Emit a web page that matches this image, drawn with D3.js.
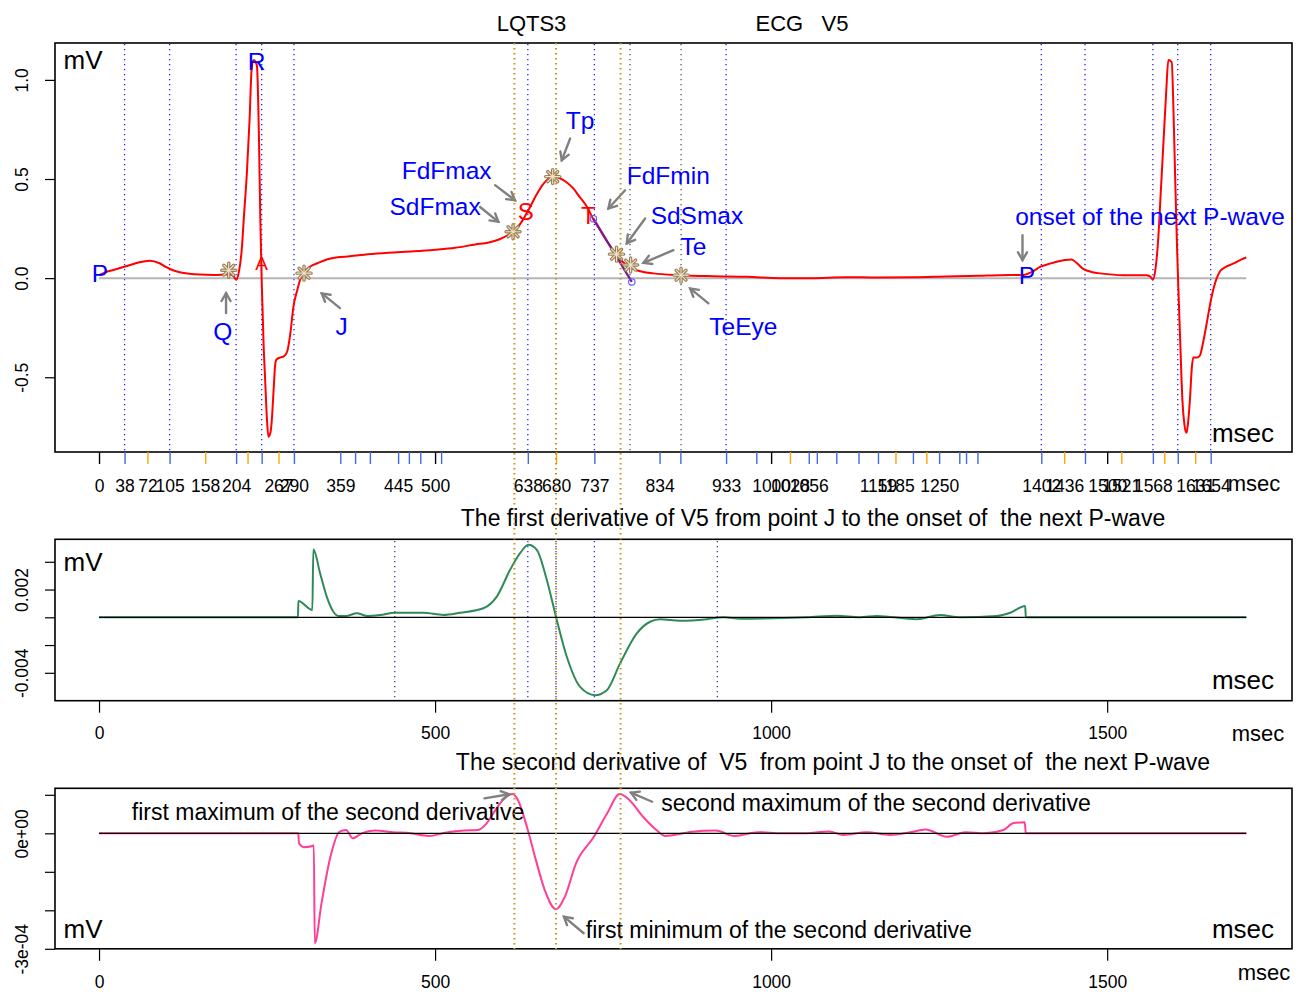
<!DOCTYPE html>
<html>
<head>
<meta charset="utf-8">
<script src="https://cdn.jsdelivr.net/npm/d3@7"></script>
<style>
  body { margin: 0; background: #fff; }
  svg { display: block; }
  text { font-family: "Liberation Sans", Arial, Helvetica, sans-serif; }
</style>
</head>
<body>
<svg id="chart" width="1304" height="992"></svg>
<script>
// ---------- ECG lead V5 (msec, mV) ----------
const ecgMs = [0,10,20,30,40,50,60,76,90,100,110,120,135,150,170,185,195,200,204,208,212,216,220,224,227,230,233,235,238,240,242,245,247,250,252,255,257,260,262,264,270,275,280,285,289,295,300,305,315,325,340,355,373,400,430,468,500,530,560,580,595,610,620,630,640,650,660,670,676,685,695,705,715,726,735,745,755,765,775,785,800,825,865,914,964,1013,1060,1110,1160,1210,1260,1310,1340,1375,1390,1400,1412,1425,1447,1455,1465,1478,1490,1524,1559,1565,1568,1572,1576,1580,1584,1588,1591,1596,1599,1601,1604,1606,1609,1612,1615,1618,1620,1623,1626,1628,1634,1638,1643,1648,1655,1663,1668,1673,1688,1700,1707];
const ecgMv = [0.015,0.03,0.04,0.05,0.06,0.07,0.08,0.088,0.075,0.055,0.04,0.03,0.022,0.018,0.016,0.018,0.02,0.01,-0.008,0.03,0.13,0.33,0.53,0.80,1.05,1.10,1.09,1.07,0.70,0.30,-0.01,-0.35,-0.50,-0.72,-0.80,-0.78,-0.72,-0.55,-0.44,-0.41,-0.40,-0.395,-0.37,-0.27,-0.15,-0.06,0.0,0.03,0.06,0.075,0.095,0.105,0.11,0.12,0.128,0.135,0.143,0.153,0.17,0.18,0.195,0.22,0.245,0.29,0.35,0.415,0.47,0.505,0.512,0.505,0.485,0.455,0.41,0.36,0.30,0.245,0.19,0.14,0.095,0.066,0.04,0.024,0.015,0.01,0.007,0.0,0.0,0.005,0.003,0.004,0.008,0.012,0.015,0.016,0.035,0.057,0.07,0.083,0.094,0.075,0.045,0.03,0.024,0.015,0.015,0.005,-0.008,0.05,0.2,0.45,0.70,0.95,1.10,1.09,0.80,0.53,0.15,-0.06,-0.35,-0.62,-0.74,-0.78,-0.74,-0.62,-0.45,-0.40,-0.40,-0.39,-0.32,-0.23,-0.10,0.0,0.035,0.05,0.074,0.095,0.104];

// ---------- first derivative, J point to next P onset ----------
const fdMs = [0,296,296.6,317.4,318.9,328.9,338.8,348.7,356.1,368.6,383.5,398.4,418.2,440.5,482.6,512.4,537.2,571.9,591.8,611.6,626.5,638.8,651.3,666.2,678.6,696,715.8,738.1,755.5,775.3,800.1,819.9,834.8,864.6,904.3,929,953.9,1003.4,1053.1,1097.8,1132.4,1157.3,1216.8,1251.5,1281.3,1335.9,1355.7,1378,1379,1707];
const fdMv = [0,0,0.00118,0.00053,0.00491,0.00318,0.00149,0.0004,0.0001,0.0001,0.0003,0.0001,0.00017,0.00033,0.00033,0.00017,0.00033,0.00065,0.00149,0.00342,0.00462,0.00522,0.00486,0.0027,0.0003,-0.00284,-0.00501,-0.00561,-0.00525,-0.00332,-0.00116,-0.00032,-0.00014,-0.00025,-0.00014,0,-0.0001,-0.00007,0,0.00012,0,0.0001,-0.00014,0.00017,0,0.0001,0.00033,0.00082,0,0];

// ---------- second derivative, J point to next P onset ----------
const sdMs = [0,296.4,297.6,304.5,317.7,319.6,321,331,344.3,357.6,367.6,377.5,390.8,410.7,437.4,463.8,490.5,517,543.6,563.5,576.8,590,603.4,615.3,623.4,636.6,649.9,663.1,679.8,693,709.7,736.3,756.1,774.7,789.4,809.4,829.3,842.6,869,882.4,917.7,945.7,980.7,1015.9,1051,1086.2,1107.1,1142.3,1177.1,1205.4,1230,1261.6,1289.7,1317.7,1345.8,1359.8,1377.4,1378.9,1707];
const sdMv = [0,0,-2.6e-5,-3.6e-5,-3.3e-5,-3.1e-5,-2.86e-4,-1.82e-4,-6.1e-5,4e-6,8.6e-6,-1.3e-5,0,7e-6,3e-6,0,-7e-6,2e-6,7e-6,8.6e-6,2.6e-5,6.1e-5,9.1e-5,1.02e-4,8.6e-5,1.7e-5,-6.9e-5,-1.47e-4,-1.97e-4,-1.65e-4,-7.8e-5,-9e-6,5.2e-5,1.02e-4,8.6e-5,4.3e-5,8.6e-6,-7e-6,0,4e-6,7e-6,-7e-6,3e-6,0,0,5e-6,-4.4e-6,3e-6,-4.4e-6,2e-6,1e-5,-9e-6,3e-6,0,8.6e-6,2.6e-5,2.9e-5,0,0];

// ---------- fiducial points ----------
const blueTicks = [38,105,204,242,290,359,381,403,445,461,478,509,638,737,834,865,933,978,1056,1068,1097,1130,1159,1211,1250,1280,1290,1307,1402,1467,1568,1605,1654];
const orangeTicks = [72,158,221,267,680,1028,1185,1231,1436,1521,1585,1631];
const majorTicks = [0,500,1000,1500];
const tickLabels = [0,38,72,105,158,204,267,290,359,445,500,638,680,737,834,933,1000,1028,1056,1159,1185,1250,1402,1436,1500,1521,1568,1631,1654];

const ecgGuideMs = [38,105,204,242,290,638,737,933,1402,1467,1568,1605,1654];
const ecgGrayGuideMs = [790,866];
const derivGuideMs = [618,680,776];
const fdGuideMs = [440,638,680,737,920];
const fdGuideColor = ["#3b3b95","#2a2aff","#2a2aff","#2a2aff","#3b3b95"];

const starMs = [193,305,616,675,770,791,866];
const starMv = [0.04,0.025,0.234,0.512,0.121,0.066,0.015];

const tangentMs = [735.6,792.7];
const tangentMv = [0.30,-0.019];

// blue labels on the ECG: text, msec, mV
const ecgLabelText = ["P","R","Q","J","FdFmax","SdFmax","Tp","FdFmin","SdSmax","Te","TeEye","onset of the next P-wave","P"];
const ecgLabelMs   = [1.5,234.6,184,361,517.3,500,715.8,847,889.6,884.5,958.7,1563.7,1380.6];
const ecgLabelMv   = [0.024,1.093,-0.27,-0.245,0.544,0.359,0.796,0.519,0.318,0.158,-0.245,0.309,0.015];

const redLabelText = ["A","S","T"];
const redLabelMs   = [242,635,728];
const redLabelMv   = [0.076,0.335,0.317];

// annotation arrows on the ECG (from -> to)
const ecgArrowMs0 = [189,358.6,589.3,567,700.9,782.7,812.5,854.6,906.7,1374];
const ecgArrowMv0 = [-0.176,-0.151,0.469,0.359,0.704,0.443,0.301,0.141,-0.127,0.217];
const ecgArrowMs1 = [189,331.4,619,594.2,688.5,757.9,785.3,810,879.5,1374];
const ecgArrowMv1 = [-0.076,-0.077,0.393,0.284,0.594,0.351,0.175,0.077,-0.052,0.091];

// second-derivative annotations
const sdNoteText = ["first maximum of the second derivative","second maximum of the second derivative","first minimum of the second derivative"];
const sdNoteMs = [340.8,1156,1011.5];
const sdNoteMv = [0.55e-4,0.78e-4,-2.5e-4];
const sdArrowMs0 = [573.5,822.9,721.1];
const sdArrowMv0 = [0.909e-4,0.82e-4,-2.597e-4];
const sdArrowMs1 = [610.1,791.4,691.7];
const sdArrowMv1 = [1.013e-4,1.055e-4,-2.166e-4];

// ---------- layout ----------
const svg = d3.select("#chart");
const x = d3.scaleLinear().domain([-65.5, 1775]).range([55, 1292]);
const yTop = d3.scaleLinear().domain([-0.877, 1.186]).range([452, 43]);
const yMid = d3.scaleLinear().domain([-0.00601, 0.00562]).range([700.7, 539.3]);
const yBot = d3.scaleLinear().domain([-3.0e-4, 1.169e-4]).range([948.8, 788.3]);
const FONT = '"Liberation Sans", Arial, Helvetica, sans-serif';

const zip = (a, b) => a.map((d, i) => [d, b[i]]);
const lineOf = (ys) => d3.line().x(d => x(d[0])).y(d => ys(d[1])).curve(d3.curveMonotoneX);

function panelBox(ys) {
  const [b, t] = ys.range();
  svg.append("rect").attr("x", 55).attr("y", t).attr("width", 1292 - 55).attr("height", b - t)
    .attr("fill", "none").attr("stroke", "#000").attr("stroke-width", 1.6);
}

function vGuide(ms, y0, y1, color, width, dash) {
  svg.append("g").selectAll("line").data(ms).join("line")
    .attr("x1", d => x(d)).attr("x2", d => x(d))
    .attr("y1", y0).attr("y2", y1)
    .attr("stroke", color).attr("stroke-width", width)
    .attr("stroke-dasharray", dash);
}

function arrow(x0, y0, x1, y1) {
  const g = svg.append("g").attr("stroke", "#808080").attr("stroke-width", 2.4).attr("fill", "none").attr("stroke-linecap", "round");
  g.append("line").attr("x1", x0).attr("y1", y0).attr("x2", x1).attr("y2", y1);
  const a = Math.atan2(y1 - y0, x1 - x0), L = 9, h = Math.PI / 6;
  g.append("path").attr("d",
    `M${x1 - L * Math.cos(a - h)},${y1 - L * Math.sin(a - h)}L${x1},${y1}L${x1 - L * Math.cos(a + h)},${y1 - L * Math.sin(a + h)}`);
}

function text(str, tx, ty, size, color, anchor) {
  return svg.append("text").attr("x", tx).attr("y", ty)
    .attr("font-size", size).attr("fill", color || "#000")
    .attr("text-anchor", anchor || "middle").attr("dominant-baseline", "central")
    .style("white-space", "pre").text(str);
}

function yAxis(ys, values, labelOf) {
  const g = svg.append("g").attr("transform", "translate(55,0)")
    .call(d3.axisLeft(ys).tickValues(values).tickSize(10).tickFormat(labelOf));
  g.select(".domain").remove();
  g.selectAll("line").attr("stroke", "#000").attr("stroke-width", 1.2);
  g.selectAll("text").attr("x", 0).attr("dy", 0).attr("text-anchor", "middle")
    .attr("transform", "translate(-27,0) rotate(-90)")
    .attr("font-size", 17.5).attr("font-family", FONT).attr("fill", "#000");
}

function xAxisPlain(yPos, pad) {
  const g = svg.append("g").attr("transform", `translate(0,${yPos})`)
    .call(d3.axisBottom(x).tickValues(majorTicks).tickSize(12).tickPadding(pad).tickFormat(d3.format("d")));
  g.select(".domain").remove();
  g.selectAll("line").attr("stroke", "#000").attr("stroke-width", 1.2);
  g.selectAll("text").attr("font-size", 17.5).attr("font-family", FONT).attr("fill", "#000");
}

// ---------- panel frames ----------
panelBox(yTop);
panelBox(yMid);
panelBox(yBot);

// ---------- top panel: ECG ----------
vGuide(ecgGuideMs, 44, 451, "#1f1fff", 1.3, "1.3 3.7");
vGuide(ecgGrayGuideMs, 44, 451, "#555", 1.3, "1.3 3.7");

svg.append("line").attr("x1", x(0)).attr("x2", x(1707)).attr("y1", yTop(0)).attr("y2", yTop(0))
  .attr("stroke", "#b5b5b5").attr("stroke-width", 2);

svg.append("path").datum(zip(ecgMs, ecgMv)).attr("d", lineOf(yTop))
  .attr("fill", "none").attr("stroke", "#ff0000").attr("stroke-width", 2).attr("stroke-linejoin", "round");

// tangent at T used for Te
svg.append("line").attr("x1", x(tangentMs[0])).attr("y1", yTop(tangentMv[0]))
  .attr("x2", x(tangentMs[1])).attr("y2", yTop(tangentMv[1]))
  .attr("stroke", "#7a1a8c").attr("stroke-width", 2.2);
svg.append("g").selectAll("circle").data(zip(tangentMs, tangentMv)).join("circle")
  .attr("cx", d => x(d[0])).attr("cy", d => yTop(d[1])).attr("r", 3.2)
  .attr("fill", "none").attr("stroke", "#5a5aff").attr("stroke-width", 1.1);

// asterisk markers
const star = d3.range(4).map(i => i * Math.PI / 4);
const starG = svg.append("g").selectAll("g").data(zip(starMs, starMv)).join("g")
  .attr("transform", d => `translate(${x(d[0])},${yTop(d[1])})`);
[["#9a7d55", 3.4], ["#efe4cf", 1.1]].forEach(([c, w]) => {
  starG.selectAll(null).data(star).join("line")
    .attr("x1", a => -7 * Math.cos(a)).attr("y1", a => -7 * Math.sin(a))
    .attr("x2", a => 7 * Math.cos(a)).attr("y2", a => 7 * Math.sin(a))
    .attr("stroke", c).attr("stroke-width", w).attr("stroke-linecap", "round");
});

ecgLabelText.forEach((t, i) => text(t, x(ecgLabelMs[i]), yTop(ecgLabelMv[i]), 24.5, "#0000ff"));
redLabelText.forEach((t, i) => text(t, x(redLabelMs[i]), yTop(redLabelMv[i]), i === 0 ? 19 : 24, "#ff0000"));
ecgArrowMs0.forEach((d, i) => arrow(x(d), yTop(ecgArrowMv0[i]), x(ecgArrowMs1[i]), yTop(ecgArrowMv1[i])));

// fiducial tick axis under the ECG
function tickSet(values, color) {
  const g = svg.append("g").attr("transform", "translate(0,452)")
    .call(d3.axisBottom(x).tickValues(values).tickSize(12).tickFormat(""));
  g.select(".domain").remove();
  g.selectAll("line").attr("stroke", color).attr("stroke-width", 1.4);
}
tickSet(blueTicks, "#4169e1");
tickSet(orangeTicks, "#ffa500");
tickSet(majorTicks, "#000");
const lab = svg.append("g").attr("transform", "translate(0,452)")
  .call(d3.axisBottom(x).tickValues(tickLabels).tickSize(0).tickPadding(28).tickFormat(d3.format("d")));
lab.select(".domain").remove();
lab.selectAll("text").attr("font-size", 17.5).attr("font-family", FONT).attr("fill", "#000");
text("msec", 1254, 483, 22);

yAxis(yTop, [-0.5, 0, 0.5, 1.0], d => d.toFixed(1));
text("mV", 83, 60, 26);
text("msec", 1243, 433, 26);
text("LQTS3", 531.5, 23, 22);
text("ECG   V5", 802, 23, 22);

// ---------- middle panel: first derivative ----------
fdGuideMs.forEach((d, i) => vGuide([d], 541, 700, fdGuideColor[i], 1.3, "1.3 3.7"));
svg.append("path").datum(zip(fdMs, fdMv)).attr("d", lineOf(yMid))
  .attr("fill", "none").attr("stroke", "#2e8b57").attr("stroke-width", 2);
svg.append("line").attr("x1", x(0)).attr("x2", x(1707)).attr("y1", yMid(0)).attr("y2", yMid(0))
  .attr("stroke", "#000").attr("stroke-width", 1.3);
yAxis(yMid, [-0.004, -0.002, 0, 0.002, 0.004], d => (d === 0.002 ? "0.002" : d === -0.004 ? "-0.004" : ""));
xAxisPlain(700.7, 14);
text("mV", 83, 562, 26);
text("msec", 1243, 680, 26);
text("msec", 1258, 733, 22);
text("The first derivative of V5 from point J to the onset of  the next P-wave", 813, 518, 23);

// ---------- bottom panel: second derivative ----------
svg.append("path").datum(zip(sdMs, sdMv)).attr("d", lineOf(yBot))
  .attr("fill", "none").attr("stroke", "#ff3e96").attr("stroke-width", 2);
svg.append("line").attr("x1", x(0)).attr("x2", x(1707)).attr("y1", yBot(0)).attr("y2", yBot(0))
  .attr("stroke", "#000").attr("stroke-width", 1.3);
yAxis(yBot, [-3e-4, -2e-4, -1e-4, 0, 1e-4], d => (d === 0 ? "0e+00" : d === -3e-4 ? "-3e-04" : ""));
xAxisPlain(948.8, 15);
sdNoteText.forEach((t, i) => text(t, x(sdNoteMs[i]), yBot(sdNoteMv[i]), 23));
sdArrowMs0.forEach((d, i) => arrow(x(d), yBot(sdArrowMv0[i]), x(sdArrowMs1[i]), yBot(sdArrowMv1[i])));
text("mV", 83, 929, 26);
text("msec", 1243, 929, 26);
text("msec", 1264, 972, 22);
text("The second derivative of  V5  from point J to the onset of  the next P-wave", 833, 762, 23);

// derivative landmarks running through all three panels
vGuide(derivGuideMs, 43, 949, "#c8921e", 2, "1.6 3.4");
</script>
</body>
</html>
